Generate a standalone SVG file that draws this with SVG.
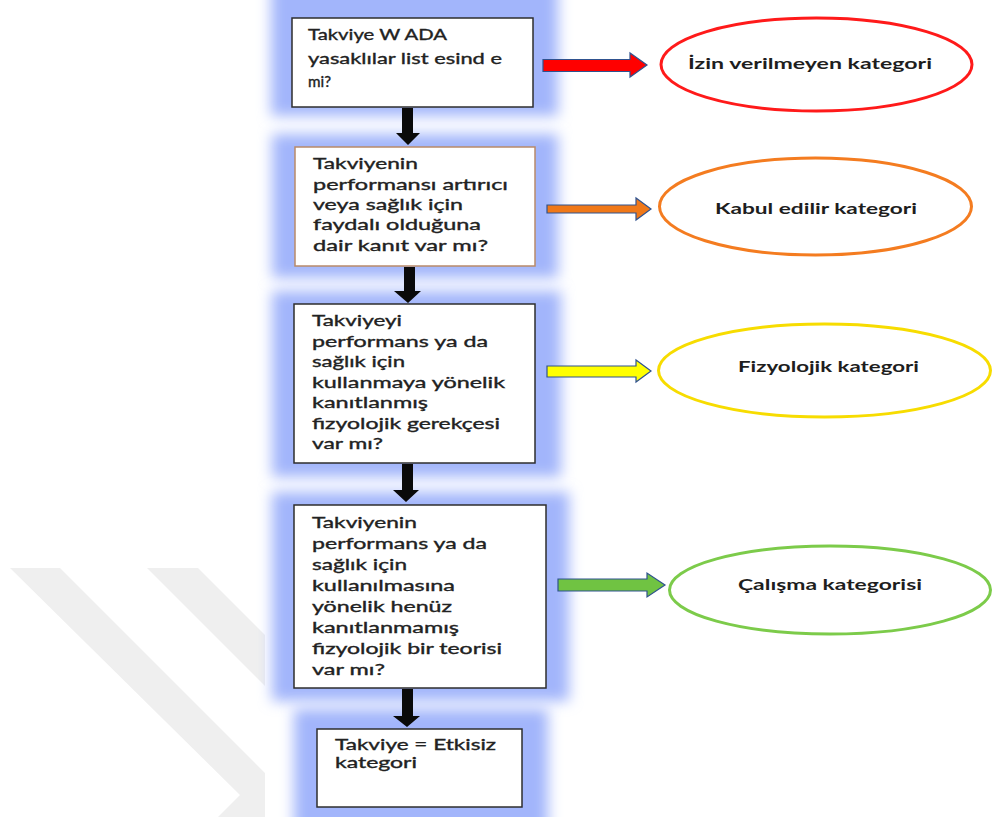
<svg xmlns="http://www.w3.org/2000/svg" width="993" height="817" viewBox="0 0 993 817">
  <defs>
    <filter id="soft" x="-20%" y="-20%" width="140%" height="140%">
      <feGaussianBlur stdDeviation="7"/>
    </filter>
    <style>
      .halo { fill: #a2b5fb; filter: url(#soft); }
      .box { fill: #ffffff; stroke: #2e2e2e; stroke-width: 1.5; }
      .box-tan { fill: #ffffff; stroke: #b98a6a; stroke-width: 1.5; }
      .q { font-family: Lato, "Liberation Sans", sans-serif; font-size: 15px; fill: #222222; stroke: #222222; stroke-width: 0.35; }
      .cat { font-family: Lato, "Liberation Sans", sans-serif; font-size: 15px; font-weight: bold; fill: #1e1e1e; }
      .down { fill: #0a0a0a; }
      .side { stroke: #2f528f; stroke-width: 1.2; }
      .oval { fill: #ffffff; stroke-width: 3; }
      .mark { fill: #efefef; }
    </style>
  </defs>

  <rect width="993" height="817" fill="#ffffff"/>

  <!-- faint chevron stripes in the lower-left corner -->
  <g id="watermark">
    <polygon class="mark" points="10,568 60,568 265,773 265,817 218,817 240,795"/>
    <polygon class="mark" points="147,568 198,568 265,635 265,686"/>
  </g>

  <!-- soft blue halos behind the question boxes -->
  <g id="halos">
    <rect class="halo" x="271" y="-20" width="287" height="136"/>
    <rect class="halo" x="272" y="134" width="286" height="144"/>
    <rect class="halo" x="272" y="291" width="289" height="186"/>
    <rect class="halo" x="272" y="492" width="297" height="209"/>
    <rect class="halo" x="294" y="709" width="254" height="131"/>
  </g>

  <g id="connectors">
    <!-- downward flow arrows -->
    <path class="down" d="M402,108 H413 V133 H420 L408,145 L396,133 H402 Z"/>
    <path class="down" d="M404,267 H415 V291 H421 L408,303 L394,291 H404 Z"/>
    <path class="down" d="M402,464 H413 V490 H419 L406,502 L393,490 H402 Z"/>
    <path class="down" d="M402,689 H413 V716 H420 L407,727 L393,716 H402 Z"/>
    <!-- side arrows to the categories -->
    <path class="side" fill="#ff0000" d="M543,59.5 H630 V53 L647,65 L630,77 V71.5 H543 Z"/>
    <path class="side" fill="#f07818" d="M547,205 H636 V198 L651,209 L636,220 V213 H547 Z"/>
    <path class="side" fill="#ffff00" d="M547,366 H636 V360 L651,371 L636,382 V377 H547 Z"/>
    <path class="side" fill="#70c342" d="M558,579 H647 V573 L665,585 L647,597 V591 H558 Z"/>
  </g>

  <g id="q1">
    <rect class="box" x="292" y="18" width="241" height="89"/>
    <text class="q" x="308" y="40" textLength="139" lengthAdjust="spacingAndGlyphs">Takviye W ADA</text>
    <text class="q" x="308" y="63.5" textLength="194" lengthAdjust="spacingAndGlyphs">yasaklılar list esind e</text>
    <text class="q" x="308" y="87" textLength="23" lengthAdjust="spacingAndGlyphs">mi?</text>
  </g>

  <g id="q2">
    <rect class="box-tan" x="295" y="147" width="240" height="119"/>
    <text class="q" x="313" y="169" textLength="105" lengthAdjust="spacingAndGlyphs">Takviyenin</text>
    <text class="q" x="313" y="190" textLength="195" lengthAdjust="spacingAndGlyphs">performansı artırıcı</text>
    <text class="q" x="313" y="210" textLength="150" lengthAdjust="spacingAndGlyphs">veya sağlık için</text>
    <text class="q" x="313" y="230" textLength="168" lengthAdjust="spacingAndGlyphs">faydalı olduğuna</text>
    <text class="q" x="313" y="250.5" textLength="175" lengthAdjust="spacingAndGlyphs">dair kanıt var mı?</text>
  </g>

  <g id="q3">
    <rect class="box" x="294" y="304" width="241" height="159"/>
    <text class="q" x="312" y="326" textLength="90" lengthAdjust="spacingAndGlyphs">Takviyeyi</text>
    <text class="q" x="312" y="346.5" textLength="176" lengthAdjust="spacingAndGlyphs">performans ya da</text>
    <text class="q" x="312" y="367" textLength="93" lengthAdjust="spacingAndGlyphs">sağlık için</text>
    <text class="q" x="312" y="387.5" textLength="193" lengthAdjust="spacingAndGlyphs">kullanmaya yönelik</text>
    <text class="q" x="312" y="408" textLength="116" lengthAdjust="spacingAndGlyphs">kanıtlanmış</text>
    <text class="q" x="312" y="428.5" textLength="188" lengthAdjust="spacingAndGlyphs">fizyolojik gerekçesi</text>
    <text class="q" x="312" y="449" textLength="71" lengthAdjust="spacingAndGlyphs">var mı?</text>
  </g>

  <g id="q4">
    <rect class="box" x="294" y="505" width="252" height="183"/>
    <text class="q" x="312" y="528" textLength="105" lengthAdjust="spacingAndGlyphs">Takviyenin</text>
    <text class="q" x="312" y="549" textLength="175" lengthAdjust="spacingAndGlyphs">performans ya da</text>
    <text class="q" x="312" y="570" textLength="95" lengthAdjust="spacingAndGlyphs">sağlık için</text>
    <text class="q" x="312" y="591" textLength="143" lengthAdjust="spacingAndGlyphs">kullanılmasına</text>
    <text class="q" x="312" y="612" textLength="140" lengthAdjust="spacingAndGlyphs">yönelik henüz</text>
    <text class="q" x="312" y="633" textLength="147" lengthAdjust="spacingAndGlyphs">kanıtlanmamış</text>
    <text class="q" x="312" y="654" textLength="190" lengthAdjust="spacingAndGlyphs">fizyolojik bir teorisi</text>
    <text class="q" x="312" y="675" textLength="73" lengthAdjust="spacingAndGlyphs">var mı?</text>
  </g>

  <g id="q5">
    <rect class="box" x="317" y="729" width="205" height="78"/>
    <text class="q" x="335" y="750" textLength="161" lengthAdjust="spacingAndGlyphs">Takviye = Etkisiz</text>
    <text class="q" x="335" y="768" textLength="82" lengthAdjust="spacingAndGlyphs">kategori</text>
  </g>

  <g id="cat-banned">
    <ellipse class="oval" stroke="#ff1a1a" cx="816.5" cy="64.5" rx="155.5" ry="46.5"/>
    <text class="cat" x="688" y="68.5" textLength="244" lengthAdjust="spacingAndGlyphs">İzin verilmeyen kategori</text>
  </g>

  <g id="cat-accepted">
    <ellipse class="oval" stroke="#f47c20" cx="815.5" cy="206.5" rx="156" ry="48.5"/>
    <text class="cat" x="715" y="213.5" textLength="202" lengthAdjust="spacingAndGlyphs">Kabul edilir kategori</text>
  </g>

  <g id="cat-physiological">
    <ellipse class="oval" stroke="#f7dc00" cx="824.5" cy="370.5" rx="166" ry="46.5"/>
    <text class="cat" x="738" y="372" textLength="181" lengthAdjust="spacingAndGlyphs">Fizyolojik kategori</text>
  </g>

  <g id="cat-study">
    <ellipse class="oval" stroke="#7ccb4a" cx="830" cy="590" rx="160.5" ry="44"/>
    <text class="cat" x="738" y="590" textLength="184" lengthAdjust="spacingAndGlyphs">Çalışma kategorisi</text>
  </g>
</svg>
